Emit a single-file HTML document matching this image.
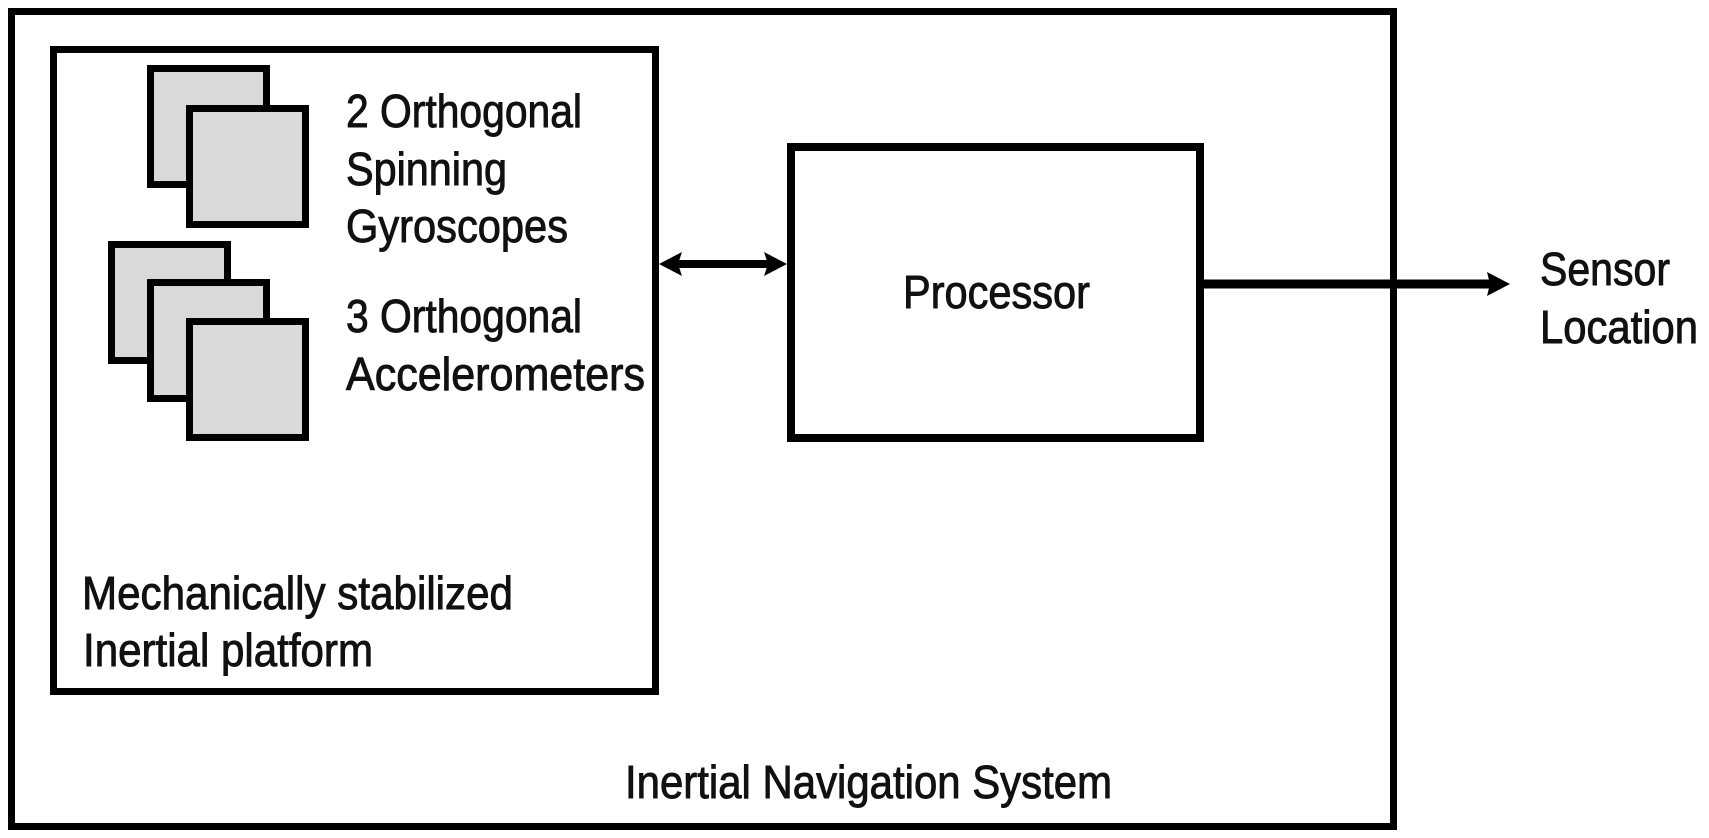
<!DOCTYPE html>
<html>
<head>
<meta charset="utf-8">
<style>
  html, body { margin: 0; padding: 0; background: #fff; }
  svg { display: block; }
  text { font-family: "Liberation Sans", Arial, sans-serif; font-size: 46px; fill: #111; stroke: #111; stroke-width: 0.9px; }
</style>
</head>
<body>
<svg width="1709" height="838" viewBox="0 0 1709 838" xmlns="http://www.w3.org/2000/svg">
  <rect x="0" y="0" width="1709" height="838" fill="#fff"/>

  <!-- Outer box: Inertial Navigation System -->
  <rect x="11.5" y="11.5" width="1382" height="815" fill="none" stroke="#000" stroke-width="7"/>

  <!-- Inner box: platform -->
  <rect x="53.5" y="49.5" width="602" height="642" fill="none" stroke="#000" stroke-width="7"/>

  <!-- Gyroscope squares -->
  <rect x="150.5" y="68.5" width="116" height="116" fill="#d9d9d9" stroke="#000" stroke-width="7"/>
  <rect x="189.5" y="108.5" width="116" height="116" fill="#d9d9d9" stroke="#000" stroke-width="7"/>

  <!-- Accelerometer squares -->
  <rect x="111.5" y="244.5" width="116" height="116" fill="#d9d9d9" stroke="#000" stroke-width="7"/>
  <rect x="150.5" y="282.5" width="116" height="116" fill="#d9d9d9" stroke="#000" stroke-width="7"/>
  <rect x="189.5" y="321.5" width="116" height="116" fill="#d9d9d9" stroke="#000" stroke-width="7"/>

  <!-- Processor box -->
  <rect x="791" y="147" width="409" height="291" fill="none" stroke="#000" stroke-width="8"/>

  <!-- Double arrow -->
  <line x1="675" y1="264" x2="771" y2="264" stroke="#000" stroke-width="8"/>
  <polygon points="659,264 682,252 678,264 682,276" fill="#000"/>
  <polygon points="787,264 764,252 768,264 764,276" fill="#000"/>

  <!-- Output arrow -->
  <line x1="1204" y1="284" x2="1492" y2="284" stroke="#000" stroke-width="9"/>
  <polygon points="1510,284 1487,272 1490,284 1487,296" fill="#000"/>

  <!-- Labels -->
  <text x="346" y="127" textLength="236" lengthAdjust="spacingAndGlyphs">2 Orthogonal</text>
  <text x="346" y="185" textLength="161" lengthAdjust="spacingAndGlyphs">Spinning</text>
  <text x="346" y="242" textLength="222" lengthAdjust="spacingAndGlyphs">Gyroscopes</text>
  <text x="346" y="332" textLength="236" lengthAdjust="spacingAndGlyphs">3 Orthogonal</text>
  <text x="346" y="390" textLength="299" lengthAdjust="spacingAndGlyphs">Accelerometers</text>

  <text x="82" y="609" textLength="431" lengthAdjust="spacingAndGlyphs">Mechanically stabilized</text>
  <text x="83" y="666" textLength="290" lengthAdjust="spacingAndGlyphs">Inertial platform</text>

  <text x="903" y="308" textLength="187" lengthAdjust="spacingAndGlyphs">Processor</text>

  <text x="1540" y="285" textLength="130" lengthAdjust="spacingAndGlyphs">Sensor</text>
  <text x="1540" y="343" textLength="158" lengthAdjust="spacingAndGlyphs">Location</text>

  <text x="625" y="798" textLength="487" lengthAdjust="spacingAndGlyphs">Inertial Navigation System</text>
</svg>
</body>
</html>
